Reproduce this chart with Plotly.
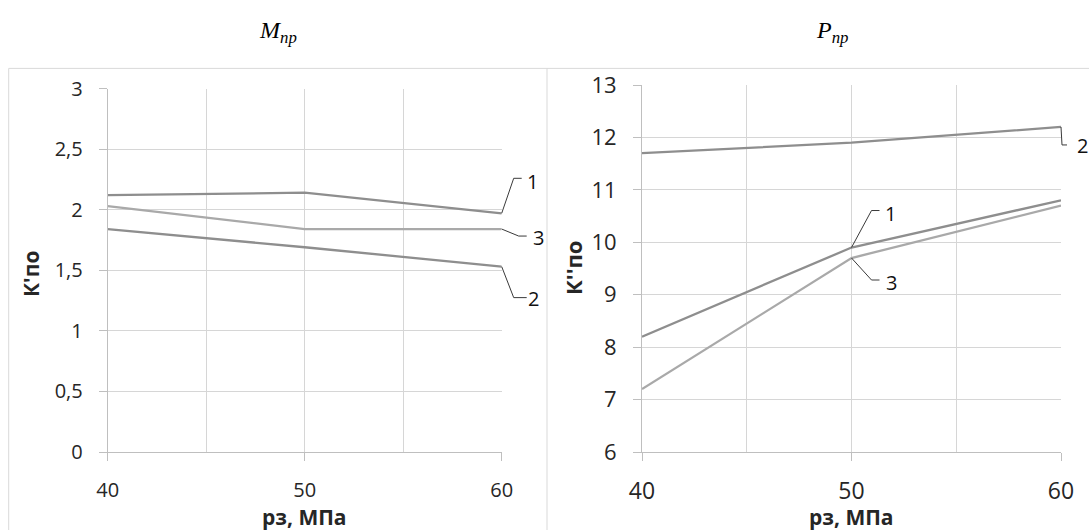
import plotly.graph_objects as go

# ---------------- data ----------------
x_vals = [40, 50, 60]
x_ticks = [40, 50, 60]
x_tick_labels = ["40", "50", "60"]

# left chart: M_пр, K'по
left_series = {
    "1": [2.12, 2.14, 1.97],
    "2": [1.84, 1.69, 1.53],
    "3": [2.03, 1.84, 1.84],
}
left_y_ticks = [0, 0.5, 1, 1.5, 2, 2.5, 3]
left_y_tick_labels = ["0", "0,5", "1", "1,5", "2", "2,5", "3"]

# right chart: P_пр, K''по
right_series = {
    "1": [8.2, 9.9, 10.8],
    "2": [11.7, 11.9, 12.2],
    "3": [7.2, 9.7, 10.7],
}
right_y_ticks = [6, 7, 8, 9, 10, 11, 12, 13]
right_y_tick_labels = ["6", "7", "8", "9", "10", "11", "12", "13"]

left_title = "<i>M</i><sub><i>пр</i></sub>"
right_title = "<i>P</i><sub><i>пр</i></sub>"
x_title = "<b>рз, МПа</b>"
left_y_title = "<b>К'по</b>"
right_y_title = "<b>К''по</b>"

# ---------------- styles ----------------
W, H = 1089, 530
colors = {"1": "#8e8e8e", "2": "#8e8e8e", "3": "#a9a9a9"}
grid_c = "#d6d6d6"
axis_c = "#bfbfbf"
text_c = "#262626"
tick_font_family = "Open Sans"

# label placement (which point, leader path in px, label offset in px)
left_labels = {
    "1": (2, "M0,0 L12,35 L20,35", 31, 32),
    "3": (2, "M0,0 L17,-7 L25,-7", 37, -8),
    "2": (2, "M0,0 L12,-31 L25,-31", 32, -32),
}
right_labels = {
    "2": (2, "M0,0 L1,-18 L6,-18", 21, -19),
    "1": (1, "M0,0 L20,37 L28,37", 39, 34),
    "3": (1, "M0,0 L20,-22 L28,-22", 40, -24),
}

fig = go.Figure()

left_dom_x = [107.7 / W, 501.7 / W]
left_dom_y = [1 - 452 / H, 1 - 88.5 / H]
right_dom_x = [642 / W, 1061 / W]
right_dom_y = [1 - 452 / H, 1 - 85 / H]

for name in ["1", "2", "3"]:
    fig.add_trace(go.Scatter(x=x_vals, y=left_series[name], mode="lines",
                             line=dict(color=colors[name], width=2.3),
                             xaxis="x", yaxis="y", showlegend=False, hoverinfo="skip"))
for name in ["1", "2", "3"]:
    fig.add_trace(go.Scatter(x=x_vals, y=right_series[name], mode="lines",
                             line=dict(color=colors[name], width=2.3),
                             xaxis="x2", yaxis="y2", showlegend=False, hoverinfo="skip"))


def xaxis_cfg(domain, anchor, size, standoff):
    return dict(domain=domain, anchor=anchor, range=[x_ticks[0], x_ticks[-1]],
                tickvals=x_ticks, ticktext=x_tick_labels,
                showgrid=True, gridcolor=grid_c, gridwidth=1,
                minor=dict(dtick=5, tick0=40, showgrid=True, gridcolor=grid_c, gridwidth=1, ticks=""),
                showline=True, linecolor=axis_c, linewidth=1,
                ticks="outside", ticklen=8, tickcolor=axis_c,
                tickfont=dict(family=tick_font_family, size=size, color=text_c),
                ticklabelstandoff=standoff, zeroline=False, fixedrange=True,
                automargin=False)


def yaxis_cfg(domain, anchor, ticks, labels, size, standoff):
    return dict(domain=domain, anchor=anchor, range=[ticks[0], ticks[-1]],
                tickvals=ticks, ticktext=labels,
                showgrid=True, gridcolor=grid_c, gridwidth=1,
                showline=True, linecolor=axis_c, linewidth=1,
                ticks="outside", ticklen=8, tickcolor=axis_c,
                tickfont=dict(family=tick_font_family, size=size, color=text_c),
                ticklabelstandoff=standoff, zeroline=False, fixedrange=True,
                automargin=False)


fig.update_layout(
    width=W, height=H,
    margin=dict(l=0, r=0, t=0, b=0, pad=0, autoexpand=False),
    paper_bgcolor="white", plot_bgcolor="white",
    xaxis=xaxis_cfg(left_dom_x, "y", 20, 12),
    yaxis=yaxis_cfg(left_dom_y, "x", left_y_ticks, left_y_tick_labels, 20, 12),
    xaxis2=xaxis_cfg(right_dom_x, "y2", 23, 10),
    yaxis2=yaxis_cfg(right_dom_y, "x2", right_y_ticks, right_y_tick_labels, 22, 12),
)

annotations = []
shapes = []


def add_labels(series, labels, xa, ya, xr, yr):
    x0, x1 = x_ticks[0], x_ticks[-1]
    y0, y1 = yr[0], yr[-1]
    for name, (idx, path, dx, dy) in labels.items():
        xv = x_vals[idx]
        yv = series[name][idx]
        fx = (xv - x0) / (x1 - x0)
        fy = (yv - y0) / (y1 - y0)
        shapes.append(dict(type="path", xref=xa + " domain", yref=ya + " domain",
                           xsizemode="pixel", ysizemode="pixel",
                           xanchor=fx, yanchor=fy, path=path,
                           line=dict(color="#3a3a3a", width=1), layer="above"))
        annotations.append(dict(text=name, xref=xa + " domain", yref=ya + " domain",
                                x=fx, y=fy, xshift=dx, yshift=dy, showarrow=False,
                                xanchor="center", yanchor="middle",
                                font=dict(family=tick_font_family, size=20, color="#111111")))


add_labels(left_series, left_labels, "x", "y", x_ticks, left_y_ticks)
add_labels(right_series, right_labels, "x2", "y2", x_ticks, right_y_ticks)

# titles
annotations.append(dict(text=left_title, xref="paper", yref="paper", x=278 / W, y=1 - 32 / H,
                        showarrow=False, xanchor="center", yanchor="middle",
                        font=dict(family="Liberation Serif", size=24, color="#000000")))
annotations.append(dict(text=right_title, xref="paper", yref="paper", x=832 / W, y=1 - 32 / H,
                        showarrow=False, xanchor="center", yanchor="middle",
                        font=dict(family="Liberation Serif", size=24, color="#000000")))
# axis titles
annotations.append(dict(text=x_title, xref="paper", yref="paper", x=304.7 / W, y=1 - 517 / H,
                        showarrow=False, xanchor="center", yanchor="middle",
                        font=dict(family=tick_font_family, size=21, color=text_c)))
annotations.append(dict(text=x_title, xref="paper", yref="paper", x=851.5 / W, y=1 - 517 / H,
                        showarrow=False, xanchor="center", yanchor="middle",
                        font=dict(family=tick_font_family, size=21, color=text_c)))
annotations.append(dict(text=left_y_title, xref="paper", yref="paper", x=31 / W, y=1 - 274 / H,
                        showarrow=False, xanchor="center", yanchor="middle", textangle=-90,
                        font=dict(family=tick_font_family, size=21, color=text_c)))
annotations.append(dict(text=right_y_title, xref="paper", yref="paper", x=573 / W, y=1 - 268 / H,
                        showarrow=False, xanchor="center", yanchor="middle", textangle=-90,
                        font=dict(family=tick_font_family, size=22, color=text_c)))

# panel borders
border = dict(color="#d9d9d9", width=1)
shapes += [
    dict(type="line", xref="paper", yref="paper", x0=8.7 / W, x1=8.7 / W, y0=0, y1=1 - 68.4 / H, line=border),
    dict(type="line", xref="paper", yref="paper", x0=8.7 / W, x1=1, y0=1 - 68.4 / H, y1=1 - 68.4 / H, line=border),
    dict(type="line", xref="paper", yref="paper", x0=547 / W, x1=547 / W, y0=0, y1=1 - 68.4 / H, line=border),
]

fig.update_layout(annotations=annotations, shapes=shapes)

fig.write_html("out.html", config={"displayModeBar": False},
               post_script="document.body.style.margin='0';document.body.style.overflow='hidden';")
